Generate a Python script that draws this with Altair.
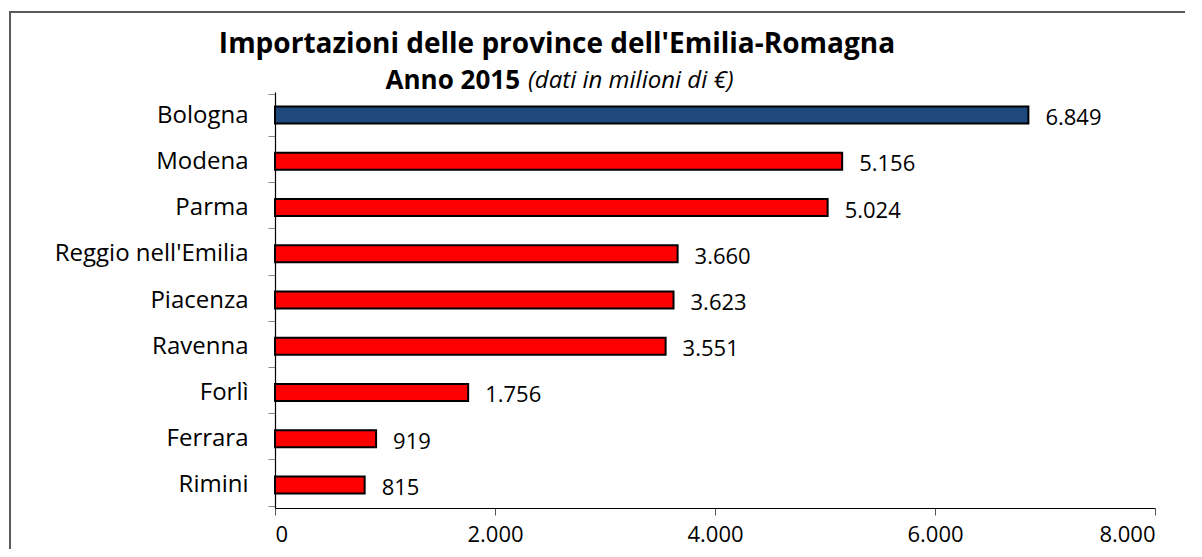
import altair as alt
import pandas as pd

province = ["Bologna", "Modena", "Parma", "Reggio nell'Emilia", "Piacenza",
            "Ravenna", "Forlì", "Ferrara", "Rimini"]
valori = [6849, 5156, 5024, 3660, 3623, 3551, 1756, 919, 815]
colori = ["#1F497D", "#FF0000", "#FF0000", "#FF0000", "#FF0000",
          "#FF0000", "#FF0000", "#FF0000", "#FF0000"]
x_ticks = [0, 2000, 4000, 6000, 8000]

titolo = "Importazioni delle province dell'Emilia-Romagna"
sottotitolo_bold = "Anno 2015"
sottotitolo_it = "(dati in milioni di €)"

FONT = "Open Sans"

df = pd.DataFrame({
    "provincia": province,
    "valore": valori,
    "colore": colori,
    "etichetta": [f"{v:,}".replace(",", ".") for v in valori],
})

W, H = 880, 416

x_enc = alt.X("valore:Q",
              scale=alt.Scale(domain=[0, 8000], nice=False),
              axis=alt.Axis(values=x_ticks, title=None, grid=False,
                            labelExpr="replace(format(datum.value, ','), ',', '.')",
                            labelFont=FONT, labelFontSize=22, labelColor="#000000",
                            labelPadding=9, tickSize=7, tickColor="#555555",
                            domainColor="#000000", domainWidth=1.2))
y_enc = alt.Y("provincia:N", sort=province,
              axis=alt.Axis(title=None, tickBand="extent", tickSize=7,
                            tickColor="#888888", domainColor="#000000",
                            domainWidth=1.2, labelFont=FONT, labelFontSize=24,
                            labelColor="#000000", labelPadding=20, labelLimit=0))

bars = alt.Chart(df).mark_bar(size=17, stroke="#000000", strokeWidth=2).encode(
    x=x_enc, y=y_enc,
    color=alt.Color("colore:N", scale=None),
)

labels = alt.Chart(df).mark_text(align="left", baseline="middle", dx=17, dy=3,
                                 font=FONT, fontSize=22, color="#000000").encode(
    x="valore:Q", y=alt.Y("provincia:N", sort=province), text="etichetta:N")

one = pd.DataFrame({"k": [0]})

border = alt.Chart(one).mark_rect(fill=None, stroke="#5A5A5A", strokeWidth=2).encode(
    x=alt.value(-265), x2=alt.value(W + 60), y=alt.value(-80), y2=alt.value(H + 60))

t1 = alt.Chart(one).mark_text(align="center", baseline="middle", font=FONT,
                              fontSize=28, fontWeight="bold", color="#000000").encode(
    x=alt.value(282), y=alt.value(-47), text=alt.value(titolo))
t2 = alt.Chart(one).mark_text(align="right", baseline="middle", font=FONT,
                              fontSize=26, fontWeight="bold", color="#000000").encode(
    x=alt.value(245), y=alt.value(-11), text=alt.value(sottotitolo_bold))
t3 = alt.Chart(one).mark_text(align="left", baseline="middle", font=FONT,
                              fontSize=24, fontStyle="italic", color="#000000").encode(
    x=alt.value(253), y=alt.value(-11), text=alt.value(sottotitolo_it))

chart = alt.layer(border, bars, labels, t1, t2, t3).properties(
    width=W, height=H,
    autosize=alt.AutoSizeParams(type="none"),
    padding={"left": 267, "top": 84, "right": 30, "bottom": 41},
).configure_view(stroke=None)

chart.save("out.html", embed_options={"renderer": "svg", "actions": False})
